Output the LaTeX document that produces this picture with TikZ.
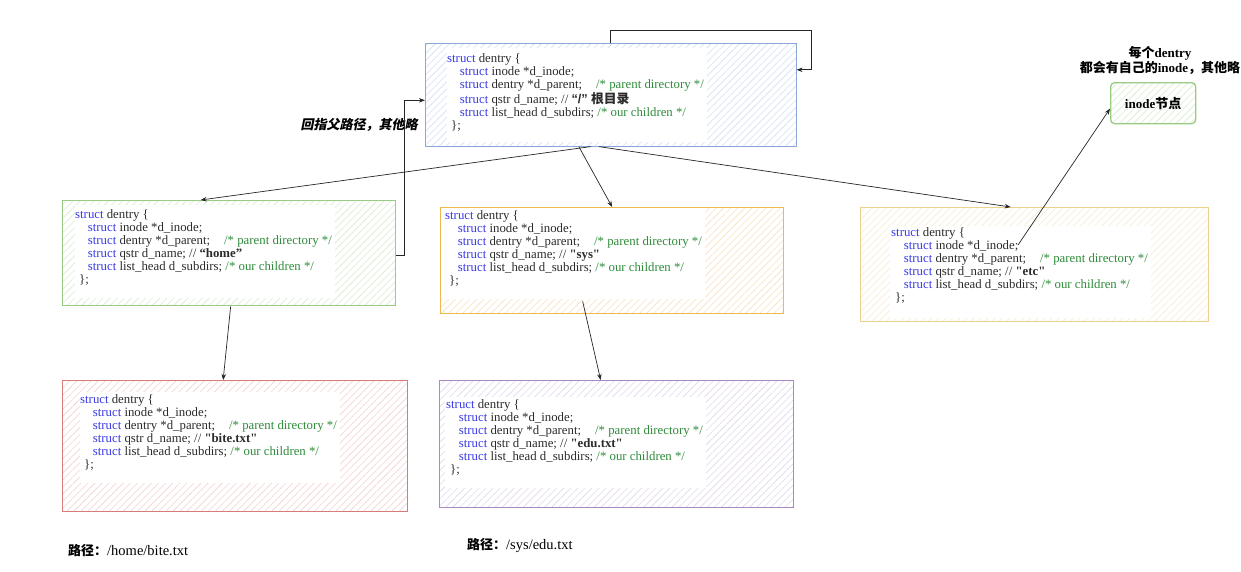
\documentclass[tikz,border=0pt]{standalone}
\usepackage{fontspec}
\setmainfont{Liberation Serif}[Ligatures=TeXOff]
\newfontfamily\sansf{Liberation Sans}
\newfontfamily\cjk{Noto Sans CJK SC}
\newfontfamily\cjkit[FakeSlant=0.2]{Noto Sans CJK SC}
\usetikzlibrary{arrows.meta,patterns.meta}
\definecolor{kwblue}{HTML}{3A3AE6}
\definecolor{cmgreen}{HTML}{2E8B3A}
\definecolor{txtdark}{HTML}{2B2B2B}
\definecolor{bblue}{HTML}{8BA6D8}\definecolor{hblue}{HTML}{D3E0F3}
\definecolor{bgreen}{HTML}{9ACB85}\definecolor{hgreen}{HTML}{D7ECCD}
\definecolor{bsys}{HTML}{EDB94E}\definecolor{hsys}{HTML}{FBE0C0}
\definecolor{betc}{HTML}{EBD38E}\definecolor{hetc}{HTML}{F8EDCF}
\definecolor{bred}{HTML}{D77B7B}\definecolor{hred}{HTML}{F6D0D0}
\definecolor{bpur}{HTML}{A88BC4}\definecolor{hpur}{HTML}{E1D7EE}
\newcommand\kwd[1]{\textcolor{kwblue}{#1}}
\newcommand\cmt[1]{\textcolor{cmgreen}{#1}}
\newcommand\dentrycode[1]{%
\kwd{struct} dentry \{\\
\hspace*{12.7pt}\kwd{struct} inode *d\_inode;\\
\hspace*{12.7pt}\kwd{struct} dentry *d\_parent;\hspace*{14pt}\cmt{/* parent directory */}\\
\hspace*{12.7pt}\kwd{struct} qstr d\_name; // #1\\
\hspace*{12.7pt}\kwd{struct} list\_head d\_subdirs; \cmt{/* our children */}\\
\hspace*{4pt}\};}
\begin{document}
\begin{tikzpicture}[x=1pt,y=-1pt,
  hatch/.style={pattern={Lines[angle=45,distance=5pt,line width=0.6pt]}, pattern color=#1},
  dbox/.style={draw=#1, line width=1.3pt, rectangle, inner sep=0pt, anchor=north west},
  panel/.style={fill=white, inner sep=0pt, anchor=north west},
  code/.style={inner sep=0pt, anchor=north west, align=left, font=\fontsize{12.8}{13}\selectfont, text=txtdark},
  arr/.style={-{Stealth[length=6pt,width=4.5pt]}, line width=0.7pt, black!85},
  lbl/.style={inner sep=0pt, font=\fontsize{13}{15}\selectfont, text=black}
]
\useasboundingbox (0,0) rectangle (1241,571);
\fill[white] (0,0) rectangle (1241,571);

% top (root) box
\node[dbox=bblue, hatch=hblue, minimum width=371pt, minimum height=103pt] (top) at (425,43) {};
\node[panel, minimum width=260pt, minimum height=94pt] (topp) at (447,48) {};
\node[code] (topt) at (447,53.5) {\dentrycode{{\sansf\bfseries “/”} {\cjk\bfseries 根目录}}};

% green (home)
\node[dbox=bgreen, hatch=hgreen, minimum width=333pt, minimum height=105pt] (green) at (62,200) {};
\node[panel, minimum width=260pt, minimum height=93pt] (greenp) at (75,205) {};
\node[code] (greent) at (75,209.5) {\dentrycode{\textbf{“home”}}};

% sys
\node[dbox=bsys, hatch=hsys, minimum width=343pt, minimum height=106pt] (sys) at (440,207) {};
\node[panel, minimum width=264pt, minimum height=91pt] (sysp) at (441,208) {};
\node[code] (syst) at (445,210.5) {\dentrycode{\textbf{"sys"}}};

% etc
\node[dbox=betc, hatch=hetc, minimum width=348pt, minimum height=114pt] (etc) at (860,207) {};
\node[panel, minimum width=261pt, minimum height=92pt] (etcp) at (890,226) {};
\node[code] (etct) at (891,227.5) {\dentrycode{\textbf{"etc"}}};

% red (bite.txt)
\node[dbox=bred, hatch=hred, minimum width=345pt, minimum height=131pt] (red) at (62,380) {};
\node[panel, minimum width=260pt, minimum height=91pt] (redp) at (80,392) {};
\node[code] (redt) at (80,394.5) {\dentrycode{\textbf{"bite.txt"}}};

% purple (edu.txt)
\node[dbox=bpur, hatch=hpur, minimum width=354pt, minimum height=127pt] (pur) at (439,380) {};
\node[panel, minimum width=261pt, minimum height=91pt] (purp) at (445,397) {};
\node[code] (purt) at (446,399.5) {\dentrycode{\textbf{"edu.txt"}}};

% inode node
\node[dbox=bgreen, hatch=hgreen, rounded corners=4pt, minimum width=85pt, minimum height=41pt] (inode) at (1110,82) {};
\node[lbl, font=\fontsize{13}{15}\selectfont\bfseries] (inodet) at (inode.center) {inode{\cjk 节点}};

% labels
\node[lbl, font=\fontsize{13}{15}\selectfont\bfseries, align=center] (note) at (1160,60.5) {{\cjk 每个}dentry\\{\cjk 都会有自己的}inode{\cjk ，其他略}};
\node[lbl, font=\fontsize{13}{15}\selectfont\bfseries\cjkit] (back) at (359,125) {回指父路径，其他略};
\node[lbl, anchor=west] (cap1) at (68,551) {{\cjk\bfseries 路径：}{\fontsize{14.5}{15}\selectfont /home/bite.txt}};
\node[lbl, anchor=west] (cap2) at (467,545) {{\cjk\bfseries 路径：}{\fontsize{14.5}{15}\selectfont /sys/edu.txt}};

% connectors
\draw[arr] (top.north) -- ++(0,-13) -| ([xshift=15pt,yshift=25pt]top.east) -- ([yshift=25pt]top.east);
\draw[arr] ([yshift=-2pt]green.east) -- ++(8,0) |- ([yshift=-5.5pt]top.west);
\draw[arr] ([xshift=-20pt]top.south) -- ([xshift=-28.5pt]green.north);
\draw[arr] ([xshift=-32pt]top.south) -- (sys.north);
\draw[arr] ([xshift=-12pt]top.south) -- ([xshift=-24pt]etc.north);
\draw[arr] ([xshift=127pt,yshift=-17.5pt]etct.north west) -- ([yshift=-5.5pt]inode.west);
\draw[arr] ([xshift=1.5pt]green.south) -- ([xshift=-12pt]red.north);
\draw[arr] ([xshift=-29.5pt,yshift=13pt]sys.south) -- ([xshift=-16pt]pur.north);
\end{tikzpicture}
\end{document}
